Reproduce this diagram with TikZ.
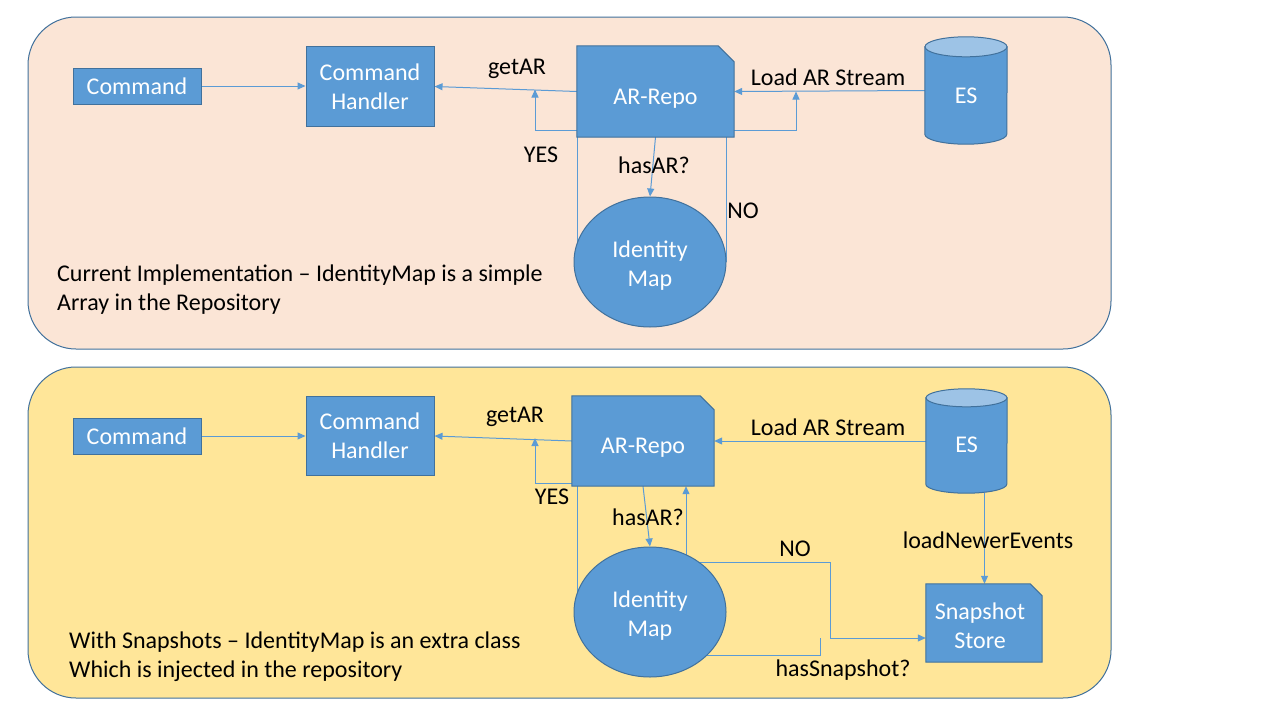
\documentclass[tikz,border=0pt]{standalone}
\usepackage{fontspec}
\setmainfont{Carlito}
\usetikzlibrary{arrows.meta,shapes.geometric}
\pgfdeclarelayer{bg}\pgfdeclarelayer{lines}\pgfdeclarelayer{shapes}
\pgfsetlayers{bg,lines,shapes,main}
\definecolor{boxfill}{HTML}{5B9BD5}
\definecolor{boxline}{HTML}{41719C}
\definecolor{peach}{HTML}{FBE5D6}
\definecolor{sand}{HTML}{FFE699}
\definecolor{cyltop}{HTML}{9DC3E6}
\tikzset{
  txt/.style={font=\fontsize{24}{29}\selectfont},
  panel/.style={draw=boxline, line width=1pt, rounded corners=48pt},
  box/.style={txt, draw=boxline, fill=boxfill, line width=1pt, text=white, align=center, inner sep=0pt},
  shapetext/.style={txt, text=white, align=center, inner sep=0pt},
  shapeline/.style={draw=boxline, fill=boxfill, line width=1pt},
  ellnode/.style={ellipse, box, minimum width=152pt, minimum height=130pt},
  conn/.style={draw=boxfill, line width=1pt},
  arr/.style={conn, -{Triangle[length=8pt,width=7pt]}},
  lbl/.style={txt, text=black, inner sep=0pt},
}
\begin{document}
\begin{tikzpicture}[x=1pt,y=-1pt]
\useasboundingbox (0,0) rectangle (1280,720);
\begin{pgfonlayer}{bg}
\fill[white] (0,0) rectangle (1280,720);
\draw[panel, fill=peach] (28,17) rectangle (1111,349);
\draw[panel, fill=sand] (28,367) rectangle (1111,698);
\end{pgfonlayer}

% ---------------- top panel ----------------
\node[box, minimum width=128pt, minimum height=36pt] (cmd1) at (137,86) {Command};
\node[box, minimum width=128pt, minimum height=80pt] (ch1) at (370,86.5) {Command\\Handler};
\node[shapetext, minimum width=157pt, minimum height=91pt, text height=30.2pt, text depth=5pt] (repo1) at (655.5,91.5) {AR-Repo};
\node[shapetext, minimum width=82pt, minimum height=107pt, text height=31.2pt, text depth=5pt] (es1) at (966,90.5) {ES};
\node[ellnode] (im1) at (650,262) {\rule{0pt}{23pt}Identity\\Map};
\coordinate (y1) at (535,89.5);
\coordinate (c1) at (796,91.5);

\begin{pgfonlayer}{shapes}
\draw[shapeline] (repo1.north west) -- ([xshift=-16pt]repo1.north east) -- ([yshift=-16pt]repo1.north east) -- (repo1.south east) -- (repo1.south west) -- cycle;
\draw[shapeline] ([yshift=-10pt]es1.north west) -- ([yshift=10pt]es1.south west) arc[start angle=180,end angle=360,x radius=41pt,y radius=10pt] -- ([yshift=-10pt]es1.north east) -- cycle;
\draw[shapeline, fill=cyltop] ([yshift=-10pt]es1.north) ellipse[x radius=41pt, y radius=10pt];
\end{pgfonlayer}

\begin{pgfonlayer}{lines}
\draw[arr] (cmd1) -- (cmd1 -| ch1.west);
\draw[arr] (repo1.west) -- (ch1.east);
\draw[arr] ([yshift=7pt]repo1.south west) -| (y1);
\draw[arr] (repo1.south) -- (im1.north);
\draw[conn] ([xshift=1pt]repo1.south west) -- ([xshift=1pt]repo1.south west |- im1.center);
\draw[conn] ([xshift=-8pt]repo1.south east) -- ([xshift=-8pt]repo1.south east |- im1.center);
\draw[arr] (es1.west) -- (repo1.east);
\draw[arr] ([yshift=7pt]repo1.south east) -| (c1);
\end{pgfonlayer}

\node[lbl] (l1) at (517,69) {getAR};
\node[lbl] (l2) at (541,155) {YES};
\node[lbl] (l3) at (654,165) {hasAR?};
\node[lbl] (l4) at (743,211) {NO};
\node[lbl] (l5) at (828,77) {Load AR Stream};
\node[lbl, align=left, anchor=west] (d1) at (57,289.5) {Current Implementation – IdentityMap is a simple\\Array in the Repository};

% ---------------- bottom panel ----------------
\node[box, minimum width=128pt, minimum height=36pt] (cmd2) at (137,436) {Command};
\node[box, minimum width=128pt, minimum height=79pt] (ch2) at (370,436) {Command\\Handler};
\node[shapetext, minimum width=142pt, minimum height=90pt, text height=29.2pt, text depth=5pt] (repo2) at (643,441) {AR-Repo};
\node[shapetext, minimum width=81pt, minimum height=104pt, text height=28.2pt, text depth=5pt] (es2) at (966.5,441) {ES};
\node[shapetext, minimum width=116pt, minimum height=78pt] (ss) at (984,623) {\rule{0pt}{23pt}Snapshot\rule{8pt}{0pt}\\Store\rule{8pt}{0pt}};
\node[ellnode] (im2) at (650,612) {\rule{0pt}{23pt}Identity\\Map};
\coordinate (y2) at (535,438);
\coordinate (n1) at (830,562);
\coordinate (h1) at (820,655);
\coordinate (h2) at (820,638);

\begin{pgfonlayer}{shapes}
\draw[shapeline] (repo2.north west) -- ([xshift=-14pt]repo2.north east) -- ([yshift=-14pt]repo2.north east) -- (repo2.south east) -- (repo2.south west) -- cycle;
\draw[shapeline] (ss.north west) -- ([xshift=-12pt]ss.north east) -- ([yshift=-12pt]ss.north east) -- (ss.south east) -- (ss.south west) -- cycle;
\draw[shapeline] ([yshift=-9pt]es2.north west) -- ([yshift=9pt]es2.south west) arc[start angle=180,end angle=360,x radius=40.5pt,y radius=9pt] -- ([yshift=-9pt]es2.north east) -- cycle;
\draw[shapeline, fill=cyltop] ([yshift=-9pt]es2.north) ellipse[x radius=40.5pt, y radius=9pt];
\end{pgfonlayer}

\begin{pgfonlayer}{lines}
\draw[arr] (cmd2) -- (cmd2 -| ch2.west);
\draw[arr] (repo2.west) -- (ch2.east);
\draw[arr] ([yshift=3pt]repo2.south west) -| (y2);
\draw[conn] ([xshift=6pt]repo2.south west) -- ([xshift=6pt]repo2.south west |- im2.center);
\draw[arr] (repo2.south) -- (im2.north);
\draw[arr] ([xshift=43pt]repo2.south |- im2.center) -- ([xshift=43pt]repo2.south);
\draw[arr] (im2.center |- n1) -- (n1) |- ([yshift=-15pt]ss.west);
\draw[conn] (im2.center |- h1) -- (h1) -- (h2);
\draw[arr] (es2.west) -- (repo2.east);
\draw[arr] ([xshift=18pt]es2.south) -- ([xshift=18pt]es2.south |- ss.north);
\end{pgfonlayer}

\node[lbl] (m1) at (515,417) {getAR};
\node[lbl] (m2) at (552,497) {YES};
\node[lbl] (m3) at (648,517) {hasAR?};
\node[lbl] (m4) at (795,549) {NO};
\node[lbl] (m5) at (828,427) {Load AR Stream};
\node[lbl] (m6) at (988,540) {loadNewerEvents};
\node[lbl] (m7) at (843,670) {hasSnapshot?};
\node[lbl, align=left, anchor=west] (d2) at (69,656.5) {With Snapshots – IdentityMap is an extra class\\Which is injected in the repository};
\end{tikzpicture}
\end{document}
